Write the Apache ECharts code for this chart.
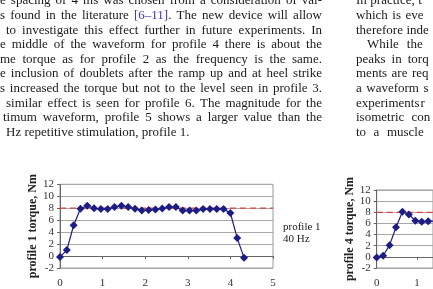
<!DOCTYPE html>
<html>
<head>
<meta charset="utf-8">
<script src="https://cdn.jsdelivr.net/npm/echarts@6/dist/echarts.min.js"></script>
<style>
  html, body { margin: 0; padding: 0; background: #fff; }
  #chart { width: 433px; height: 289px; }
</style>
</head>
<body>
<div id="chart"></div>
<script>
// profile 1, 40 Hz
const profile1Time = [0, 0.16, 0.32, 0.48, 0.64, 0.8, 0.96, 1.12, 1.28, 1.44, 1.6, 1.76, 1.92, 2.08,
  2.24, 2.4, 2.56, 2.72, 2.88, 3.04, 3.2, 3.36, 3.52, 3.68, 3.84, 4.0, 4.16, 4.32];
const profile1Torque = [-0.15, 1.0, 5.15, 7.9, 8.4, 8.0, 7.85, 7.85, 8.2, 8.4, 8.2, 7.9, 7.6, 7.7,
  7.8, 7.95, 8.2, 8.2, 7.6, 7.6, 7.6, 7.85, 7.85, 7.85, 7.85, 7.2, 3.0, -0.3];

// profile 4 (cut off at the right edge of the page)
const profile4Time = [0, 0.16, 0.32, 0.48, 0.64, 0.8, 0.96, 1.12, 1.28, 1.44];
const profile4Torque = [-0.1, 0.2, 2.1, 5.3, 8.1, 7.6, 6.5, 6.3, 6.4, 6.4];

const targetTorque = 8;
const timeRange = [0, 5];
const torqueRange = [-2, 12];

// page text around the figure
const leftLines = [
  'e spacing of 4 ms was chosen from a consideration of val-',
  's found in the literature [6–11]. The new device will allow',
  'to investigate this effect further in future experiments. In',
  'e middle of the waveform for profile 4 there is about the',
  'me torque as for profile 2 as the frequency is the same.',
  'e inclusion of doublets after the ramp up and at heel strike',
  's increased the torque but not to the level seen in profile 3.',
  'similar effect is seen for profile 6. The magnitude for the',
  'timum waveform, profile 5 shows a larger value than the',
  'Hz repetitive stimulation, profile 1.'
];
const rightLines = [
  'In practice, t',
  'which is eve',
  'therefore inde',
  'While the',
  'peaks in torq',
  'ments are req',
  'a waveform s',
  'experiments r',
  'isometric con',
  'to a muscle'
];

const serif = '"Liberation Serif", "DejaVu Serif", serif';
const textFont = '13px ' + serif;
const lineColor = '#1c1c84';
const refColor = '#e0403a';

const ctx = document.createElement('canvas').getContext('2d');
ctx.font = textFont;

const graphics = [];
function addWord(word, x, y) {
  if (word.startsWith('[')) {
    const ref = word.replace(/\.$/, '');
    graphics.push({ type: 'text', x: x, y: y, style: { text: ref, font: textFont, fill: '#3b3b9c', textVerticalAlign: 'middle' } });
    if (ref !== word) {
      graphics.push({ type: 'text', x: x + ctx.measureText(ref).width, y: y, style: { text: '.', font: textFont, fill: '#1a1a1a', textVerticalAlign: 'middle' } });
    }
    return;
  }
  graphics.push({ type: 'text', x: x, y: y, style: { text: word, font: textFont, fill: '#1a1a1a', textVerticalAlign: 'middle' } });
}

// left column: justified between its start and x = 322
const leftStarts = [0, 0, 6, 0, 0, 0, 0, 6, 3, 6];
leftLines.forEach((line, i) => {
  const y = 1 + 14.6 * i;
  const words = line.split(' ');
  const widths = words.map(w => ctx.measureText(w).width);
  const total = widths.reduce((a, b) => a + b, 0);
  let gap = ctx.measureText(' ').width;
  if (i < leftLines.length - 1) gap = (322 - leftStarts[i] - total) / (words.length - 1);
  let x = leftStarts[i];
  words.forEach((w, k) => {
    addWord(w, x, y);
    x += widths[k] + gap;
  });
});

// right column, cut by the page edge
const rightStarts = [356, 356, 356, 367, 356, 356, 356, 356, 356, 356];
const rightGaps = [3.5, 4.5, 3.5, 8, 6, 4.5, 4.5, 1, 7, 7.5];
rightLines.forEach((line, i) => {
  const y = 1 + 14.6 * i;
  let x = rightStarts[i];
  line.split(' ').forEach(w => {
    addWord(w, x, y);
    x += ctx.measureText(w).width + rightGaps[i];
  });
});

graphics.push({ type: 'text', x: 283, y: 227, style: { text: 'profile 1', font: '11px ' + serif, fill: '#222', textVerticalAlign: 'middle' } });
graphics.push({ type: 'text', x: 283, y: 239, style: { text: '40 Hz', font: '11px ' + serif, fill: '#222', textVerticalAlign: 'middle' } });

// the second plot runs past the page edge: only its visible part of the time axis is drawn
const rightPlotLeft = 376.7;
const rightPxPerSecond = 40.6;
const rightVisibleMax = (433.5 - rightPlotLeft) / rightPxPerSecond;

function xAxisFor(gridIndex, max) {
  return {
    gridIndex: gridIndex,
    type: 'value',
    min: timeRange[0],
    max: max,
    interval: 1,
    axisLine: { show: true, lineStyle: { color: '#666', width: 1 } },
    axisTick: { show: true, length: 3, lineStyle: { color: '#666' } },
    axisLabel: { fontFamily: serif, fontSize: 11, color: '#333', margin: 10, showMaxLabel: max === timeRange[1] },
    splitLine: { show: false }
  };
}

function yAxisFor(gridIndex, title, nameGap) {
  return {
    gridIndex: gridIndex,
    type: 'value',
    min: torqueRange[0],
    max: torqueRange[1],
    interval: 2,
    name: title,
    nameLocation: 'middle',
    nameRotate: 90,
    nameGap: nameGap,
    nameTextStyle: { fontFamily: serif, fontSize: 12, fontWeight: 'bold', color: '#222' },
    axisLine: { show: true, lineStyle: { color: '#666', width: 1 } },
    axisTick: { show: true, length: 3, lineStyle: { color: '#666' } },
    axisLabel: { fontFamily: serif, fontSize: 11, color: '#333', margin: 6 },
    splitLine: { show: true, lineStyle: { color: '#a8a8a8', width: 1 } }
  };
}

function seriesFor(gridIndex, time, torque) {
  return [
    {
      type: 'line',
      xAxisIndex: gridIndex,
      yAxisIndex: gridIndex,
      data: [[timeRange[0], targetTorque], [timeRange[1], targetTorque]],
      symbol: 'none',
      silent: true,
      z: 1,
      lineStyle: { color: refColor, width: 1.2, type: [6, 4] }
    },
    {
      type: 'line',
      xAxisIndex: gridIndex,
      yAxisIndex: gridIndex,
      data: time.map((t, i) => [t, torque[i]]),
      symbol: 'diamond',
      symbolSize: 8,
      showAllSymbol: true,
      z: 3,
      itemStyle: { color: lineColor },
      lineStyle: { color: lineColor, width: 1.2 }
    }
  ];
}

const myChart = echarts.init(document.getElementById('chart'));
myChart.setOption({
  animation: false,
  grid: [
    { left: 60, top: 184.3, width: 213, height: 89.7, show: true, borderColor: '#999', borderWidth: 1 },
    { left: rightPlotLeft, top: 190, width: 433.5 - rightPlotLeft, height: 85.7, show: true, borderColor: '#999', borderWidth: 1 }
  ],
  xAxis: [xAxisFor(0, timeRange[1]), xAxisFor(1, rightVisibleMax)],
  yAxis: [yAxisFor(0, 'profile 1 torque, Nm', 21), yAxisFor(1, 'profile 4 torque, Nm', 21)],
  series: [...seriesFor(0, profile1Time, profile1Torque), ...seriesFor(1, profile4Time, profile4Torque)],
  graphic: graphics
});
</script>
</body>
</html>
